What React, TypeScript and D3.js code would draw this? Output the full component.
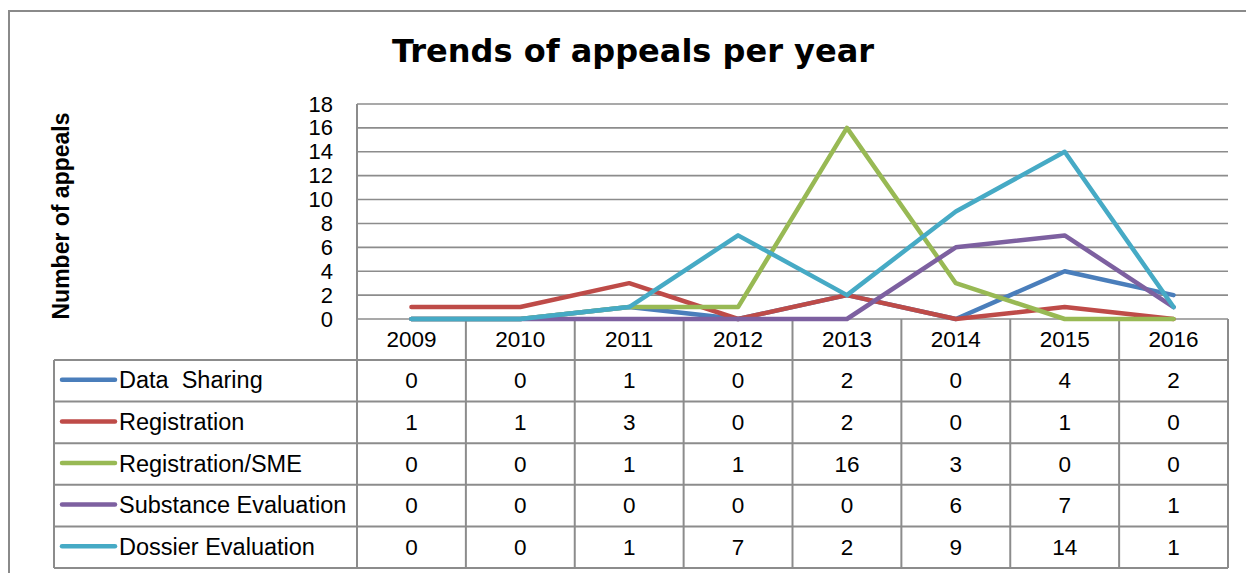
import React from "react";
import * as d3 from "d3";

const years = ["2009", "2010", "2011", "2012", "2013", "2014", "2015", "2016"];
const seriesNames = ["Data  Sharing", "Registration", "Registration/SME", "Substance Evaluation", "Dossier Evaluation"];
const dataSharing = [0, 0, 1, 0, 2, 0, 4, 2];
const registration = [1, 1, 3, 0, 2, 0, 1, 0];
const registrationSME = [0, 0, 1, 1, 16, 3, 0, 0];
const substanceEvaluation = [0, 0, 0, 0, 0, 6, 7, 1];
const dossierEvaluation = [0, 0, 1, 7, 2, 9, 14, 1];
const colors = ["#4a7ebb", "#be4b48", "#98b954", "#7d60a0", "#46aac5"];
const yTicks = [0, 2, 4, 6, 8, 10, 12, 14, 16, 18];

const allSeries = [dataSharing, registration, registrationSME, substanceEvaluation, dossierEvaluation];

export default function App() {
  const W = 1246, H = 573;
  const left = 357, right = 1228, top = 104, bottom = 319;
  const tableLeft = 54;
  const headerBottom = 360;
  const rowH = 41.6;
  const x = d3.scaleBand<string>().domain(years).range([left, right]);
  const y = d3.scaleLinear().domain([0, 18]).range([bottom, top]);
  const line = d3.line<number>()
    .x((_, i) => (x(years[i]) as number) + x.bandwidth() / 2)
    .y((d) => y(d));
  const grid = "#8c8c8c";
  const font = "'Liberation Sans', Arial, sans-serif";
  const rowsBottom = headerBottom + rowH * seriesNames.length;

  return (
    <svg width={W} height={H} style={{ position: "absolute", left: 0, top: 0, background: "#fff" }}>
      {/* outer border */}
      <path d={`M9,${H + 5} L9,11 L${W + 5},11`} fill="none" stroke="#8a8a8a" strokeWidth={2} />
      {/* title */}
      <text x={633} y={62} textAnchor="middle" fontFamily="'DejaVu Sans', Verdana, sans-serif" fontWeight="bold" fontSize={32}>
        Trends of appeals per year
      </text>
      {/* y label */}
      <text transform={`translate(69,216) rotate(-90)`} textAnchor="middle" fontFamily={font} fontWeight="bold" fontSize={23}>
        Number of appeals
      </text>
      {/* gridlines */}
      {yTicks.map((t) => (
        <line key={t} x1={left} x2={right} y1={y(t)} y2={y(t)} stroke={grid} strokeWidth={1.6} />
      ))}
      {/* y tick labels */}
      {yTicks.map((t) => (
        <text key={"l" + t} x={333} y={y(t) + 7.5} textAnchor="end" fontFamily={font} fontSize={22}>
          {t}
        </text>
      ))}
      {/* table lines */}
      <line x1={left} x2={left} y1={top} y2={rowsBottom} stroke={grid} strokeWidth={2} />
      {years.map((yr) => (
        <line key={"v" + yr} x1={(x(yr) as number) + x.bandwidth()} x2={(x(yr) as number) + x.bandwidth()} y1={bottom} y2={rowsBottom} stroke={grid} strokeWidth={2} />
      ))}
      <line x1={tableLeft} x2={tableLeft} y1={headerBottom} y2={rowsBottom} stroke={grid} strokeWidth={2} />
      {seriesNames.map((_, i) => (
        <line key={"h" + i} x1={tableLeft} x2={right} y1={headerBottom + rowH * i} y2={headerBottom + rowH * i} stroke={grid} strokeWidth={2} />
      ))}
      <line x1={tableLeft} x2={right} y1={rowsBottom} y2={rowsBottom} stroke={grid} strokeWidth={2} />
      {/* header years */}
      {years.map((yr) => (
        <text key={"y" + yr} x={(x(yr) as number) + x.bandwidth() / 2} y={347} textAnchor="middle" fontFamily={font} fontSize={22.5}>
          {yr}
        </text>
      ))}
      {/* rows */}
      {seriesNames.map((name, si) => {
        const cy = headerBottom + rowH * si + rowH / 2;
        return (
          <g key={name}>
            <line x1={62} x2={115} y1={cy - 1} y2={cy - 1} stroke={colors[si]} strokeWidth={4.5} strokeLinecap="round" />
            <text x={119} y={cy + 7.5} fontFamily={font} fontSize={23.5} style={{ whiteSpace: "pre" }}>
              {name}
            </text>
            {allSeries[si].map((v, i) => (
              <text key={i} x={(x(years[i]) as number) + x.bandwidth() / 2} y={cy + 7.5} textAnchor="middle" fontFamily={font} fontSize={22.5}>
                {v}
              </text>
            ))}
          </g>
        );
      })}
      {/* lines */}
      {allSeries.map((s, si) => (
        <path key={"p" + si} d={line(s) as string} fill="none" stroke={colors[si]} strokeWidth={4.5} strokeLinejoin="round" strokeLinecap="round" />
      ))}
    </svg>
  );
}
